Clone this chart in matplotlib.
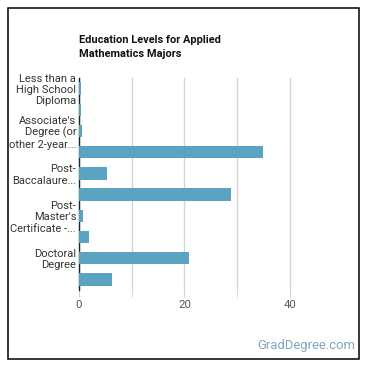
import matplotlib
matplotlib.use("Agg")
import matplotlib.pyplot as plt
from matplotlib.patches import Rectangle

plt.rcParams['font.family'] = ['Roboto', 'DejaVu Sans']

categories = [
    "Less than a High School Diploma",
    "High School Diploma",
    "Associate's Degree (or other 2-year degree)",
    "Bachelor's Degree",
    "Post-Baccalaureate Certificate",
    "Master's Degree",
    "Post-Master's Certificate",
    "First Professional Degree",
    "Doctoral Degree",
    "Post-Doctoral Training",
]
values = [0.3, 0.3, 0.5, 35.0, 5.4, 28.8, 0.75, 1.95, 20.8, 6.3]
tick_labels = [
    "Less than a\nHigh School\nDiploma",
    "",
    "Associate's\nDegree (or\nother 2-year...",
    "",
    "Post-\nBaccalaure...",
    "",
    "Post-\nMaster's\nCertificate -...",
    "",
    "Doctoral\nDegree",
    "",
]
x_ticks = [0, 20, 40]
title = "Education Levels for Applied\nMathematics Majors"

W = H = 370
fig = plt.figure(figsize=(3.7, 3.7), dpi=100)
ax = fig.add_axes([79 / W, 1 - 290 / H, (340 - 79) / W, (290 - 78) / H])

y = list(range(len(categories)))
ax.barh(y, values, height=0.58, color="#5ba3c2", zorder=3)
ax.set_ylim(len(categories) - 0.5, -0.5)
ax.set_xlim(0, 260 / 5.25)

ax.set_xticks(x_ticks)
ax.set_xticks([10, 30], minor=True)
ax.xaxis.grid(True, which="both", color="#d4d4d4", linewidth=1, zorder=0)
ax.set_xticklabels([str(t) for t in x_ticks], fontsize=8.2, color="#555555")
ax.tick_params(axis="x", which="both", length=5, color="#d4d4d4", pad=2)

ax.set_yticks(y)
ax.set_yticklabels(tick_labels, fontsize=8.0, color="#333333", linespacing=1.15)
ax.tick_params(axis="y", length=0, pad=2)

for s in ["top", "right", "bottom"]:
    ax.spines[s].set_visible(False)
ax.spines["left"].set_color("#222222")
ax.spines["left"].set_linewidth(1)

fig.text(79 / W, 1 - 35 / H, title, fontsize=7.9, fontweight="bold",
         color="#111111", ha="left", va="top", linespacing=1.55)

fig.text(355 / W, 1 - 349 / H, "GradDegree.com", fontsize=9.4,
         color="#7ea6bd", ha="right", va="baseline")

fig.patches.append(Rectangle((8 / W, 1 - 359 / H), 351 / W, 351 / H,
                             transform=fig.transFigure, fill=False,
                             edgecolor="black", linewidth=1.1))

fig.savefig("out.png", dpi=100)
